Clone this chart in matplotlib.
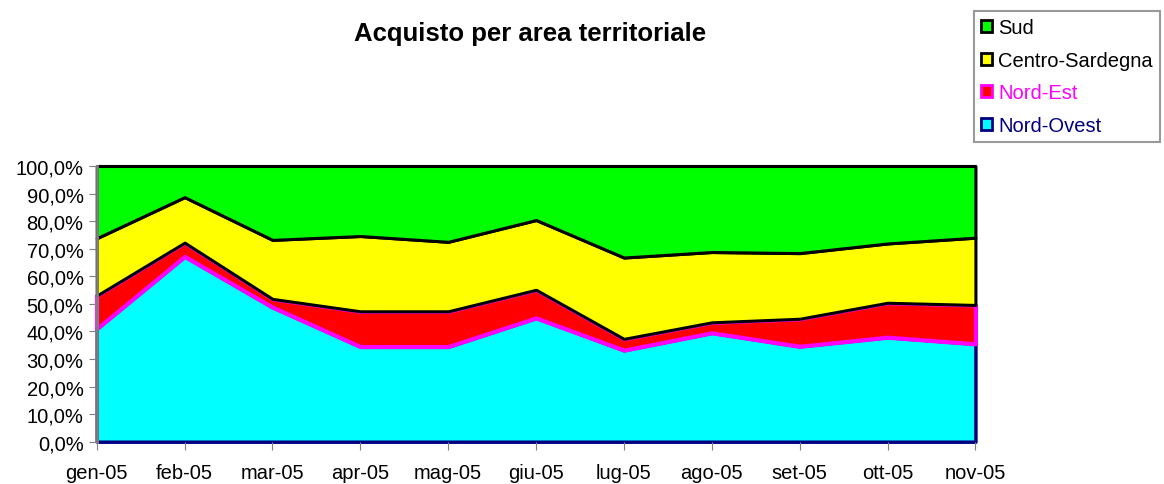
import matplotlib
matplotlib.use("Agg")
import matplotlib.pyplot as plt
from matplotlib.patches import Patch
from matplotlib.ticker import FuncFormatter

# mesi e quote percentuali per area
mesi = ['gen-05', 'feb-05', 'mar-05', 'apr-05', 'mag-05', 'giu-05',
        'lug-05', 'ago-05', 'set-05', 'ott-05', 'nov-05']
nord_ovest = [41.0, 67.2, 48.8, 34.5, 34.5, 44.9, 33.2, 39.5, 34.6, 37.9, 35.5]
nord_est = [12.0, 5.0, 3.0, 12.8, 12.8, 10.2, 4.1, 3.8, 10.0, 12.5, 14.1]
centro_sardegna = [20.8, 16.5, 21.4, 27.3, 25.2, 25.3, 29.5, 25.5, 23.8, 21.5, 24.4]
sud = [26.2, 11.3, 26.8, 25.4, 27.5, 19.6, 33.2, 31.2, 31.6, 28.1, 26.0]

nomi = ['Nord-Ovest', 'Nord-Est', 'Centro-Sardegna', 'Sud']
riempimento = ['#00FFFF', '#FF0000', '#FFFF00', '#00FF00']
bordo = ['#000080', '#FF00FF', '#000000', '#000000']
spessore = [2.5, 3.0, 2.2, 2.2]

plt.rcParams['font.family'] = ['Liberation Sans', 'DejaVu Sans']

fig = plt.figure(figsize=(11.64, 4.85), dpi=100)
ax = fig.add_axes([0.0831, 0.0872, 0.7549, 0.5685])

x = list(range(len(mesi)))
aree = ax.stackplot(x, nord_ovest, nord_est, centro_sardegna, sud, colors=riempimento)
for area, col, lw in zip(aree, bordo, spessore):
    area.set_edgecolor(col)
    area.set_linewidth(lw)
    area.set_clip_on(False)

ax.set_xlim(0, len(mesi) - 1)
ax.set_ylim(0, 100)
ax.set_xticks(x)
ax.set_xticklabels(mesi)
ax.set_yticks(range(0, 101, 10))
ax.yaxis.set_major_formatter(FuncFormatter(lambda v, p: f"{v:.1f}%".replace('.', ',')))
ax.tick_params(axis='both', direction='out', length=5.5, color='#808080', labelsize=14.5, pad=4)
ax.tick_params(axis='x', pad=10)

for lato in ['top', 'right', 'bottom']:
    ax.spines[lato].set_visible(False)
ax.spines['left'].set_color('#808080')
ax.spines['left'].set_linewidth(2)
ax.spines['left'].set_zorder(5)

fig.text(0.455, 0.930, 'Acquisto per area territoriale', ha='center', va='center',
         fontsize=18.5, fontweight='bold')

maniglie = [Patch(facecolor=riempimento[i], edgecolor=bordo[i], linewidth=2) for i in range(3, -1, -1)]
etichette = [nomi[i] for i in range(3, -1, -1)]
leg = fig.legend(maniglie, etichette, loc='upper left', bbox_to_anchor=(974 / 1164, 1 - 12 / 485),
                 fontsize=14.5, frameon=True, fancybox=False, edgecolor='#808080',
                 handlelength=0.55, handleheight=0.55, handletextpad=0.3,
                 labelspacing=0.68, borderpad=0.35, borderaxespad=0)
leg.get_frame().set_linewidth(1.5)
for testo, col in zip(leg.get_texts(), ['#000000', '#000000', '#FF00FF', '#000080']):
    testo.set_color(col)

fig.savefig('out.png', dpi=100)
